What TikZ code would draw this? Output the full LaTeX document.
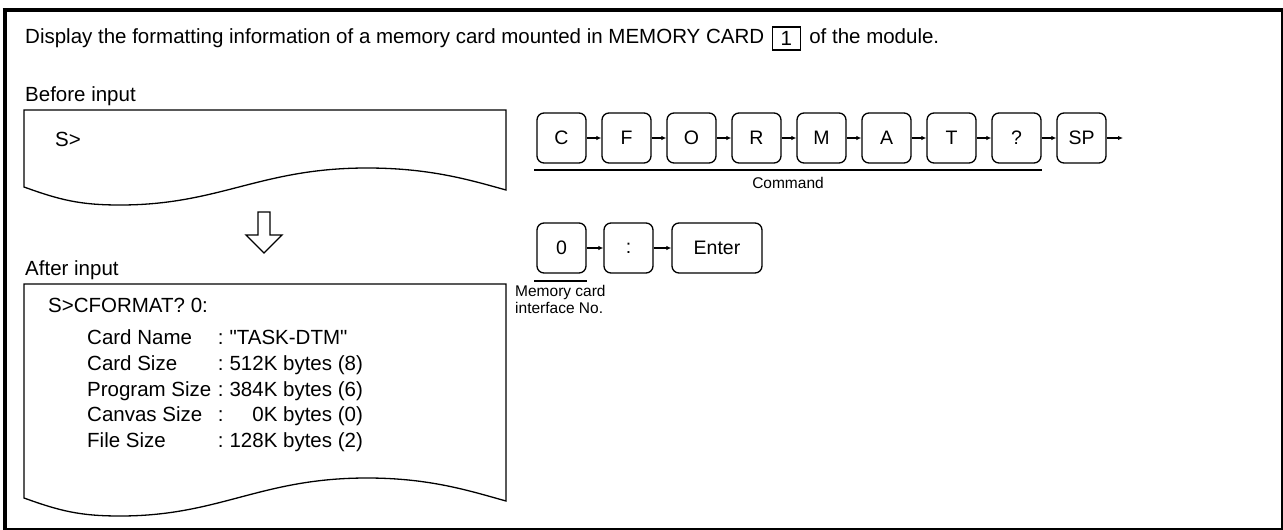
\documentclass[tikz,border=0pt]{standalone}
\usepackage{fontspec}
\setmainfont{Liberation Sans}[Ligatures=TeXOff]
\usetikzlibrary{arrows.meta,calc}
\begin{document}
\begin{tikzpicture}[x=1pt,y=-1pt,
  big/.style={font=\fontsize{20.5}{24}\selectfont, inner sep=0pt},
  keybox/.style={draw, line width=1.3pt, rounded corners=7pt, minimum width=49pt, minimum height=50pt, inner sep=0pt, font=\fontsize{19.5}{22}\selectfont},
  flow/.style={line width=1.2pt, -{Latex[length=5pt,width=4.5pt]}},
  paper/.style={draw, line width=1.3pt, fill=white},
  uline/.style={line width=1.8pt},
  small/.style={font=\fontsize{15.5}{17}\selectfont, inner sep=0pt}
]
\useasboundingbox (0,0) rectangle (1283,530);
% frame
\draw[line width=4pt] (4.7,8.5) -- (4.7,530);
\draw[line width=4pt] (2.7,10.3) -- (1283,10.3);
\draw[line width=2pt] (1281.7,10) -- (1281.7,528.7) -- (4.7,528.7);

% title line
\node[big, anchor=base west] (t1) at (25,43) {Display the formatting information of a memory card mounted in MEMORY CARD};
\path (t1.base east) ++(22,-4.5) node[draw, line width=1.3pt, minimum width=28pt, minimum height=23pt, big] (b1) {1};
\node[big, anchor=base west] (t2) at ([xshift=8pt]b1.east |- t1.base) {of the module.};

% before input
\node[big, anchor=base west] (bi) at (25,101) {Before input};
\draw[paper] (24,187) -- (24,110) -- (506,110) -- (506,190)
  .. controls (470,180) and (430,168) .. (367,168)
  .. controls (260,168) and (220,205) .. (120,205)
  .. controls (80,205) and (60,200) .. (24,187) -- cycle;
\node[big, anchor=base west] (s1) at (55,146) {S>};

% hollow arrow
\draw[line width=1.3pt, fill=white] (258,212) -- (270,212) -- (270,235) -- (282,235) -- (264,253) -- (246,235) -- (258,235) -- cycle;

% after input
\node[big, anchor=base west] (ai) at (25,275) {After input};
\draw[paper] (24,498) -- (24,284) -- (506,284) -- (506,501)
  .. controls (470,491) and (430,478) .. (367,478)
  .. controls (260,478) and (220,516) .. (120,516)
  .. controls (80,516) and (60,511) .. (24,498) -- cycle;
\node[big, anchor=base west] (s2) at (48,312) {S>CFORMAT? 0:};
\node[big, anchor=base west] (l1) at (87,344) {Card Name};
\node[big, anchor=base west] (l2) at (87,370) {Card Size};
\node[big, anchor=base west] (l3) at (87,396) {Program Size};
\node[big, anchor=base west] (l4) at (87,421) {Canvas Size};
\node[big, anchor=base west] (l5) at (87,447) {File Size};
\path (l3.base east) ++(6,0) coordinate (colx);
\node[big, anchor=base west] (c1) at (colx |- l1.base) {:};
\node[big, anchor=base west] (c2) at (colx |- l2.base) {:};
\node[big, anchor=base west] (c3) at (colx |- l3.base) {:};
\node[big, anchor=base west] (c4) at (colx |- l4.base) {:};
\node[big, anchor=base west] (c5) at (colx |- l5.base) {:};
\node[big, anchor=base west] (v1) at ([xshift=5.7pt]c1.base east) {"TASK-DTM"};
\node[big, anchor=base west] (v2) at ([xshift=5.7pt]c2.base east) {512K bytes (8)};
\node[big, anchor=base west] (v3) at ([xshift=5.7pt]c3.base east) {384K bytes (6)};
\node[big, anchor=base west] (v4) at ([xshift=5.7pt]c4.base east) {\phantom{00}0K bytes (0)};
\node[big, anchor=base west] (v5) at ([xshift=5.7pt]c5.base east) {128K bytes (2)};

% command keys
\node[keybox] (kC) at (561.5,138) {C};
\node[keybox] (kF) at (626.5,138) {F};
\node[keybox] (kO) at (691.5,138) {O};
\node[keybox] (kR) at (756.5,138) {R};
\node[keybox] (kM) at (821.5,138) {M};
\node[keybox] (kA) at (886.5,138) {A};
\node[keybox] (kT) at (951.5,138) {T};
\node[keybox] (kQ) at (1016.5,138) {?};
\node[keybox] (kS) at (1081.5,138) {SP};
\coordinate (kEnd) at (1123,138);
\draw[flow] (kC) -- (kF);
\draw[flow] (kF) -- (kO);
\draw[flow] (kO) -- (kR);
\draw[flow] (kR) -- (kM);
\draw[flow] (kM) -- (kA);
\draw[flow] (kA) -- (kT);
\draw[flow] (kT) -- (kQ);
\draw[flow] (kQ) -- (kS);
\draw[flow] (kS) -- (kEnd);
\draw[uline] ([xshift=-2pt,yshift=-6pt]kC.south west) coordinate (u1) -- ([yshift=-6pt]kQ.south east) coordinate (u2);
\node[small, anchor=north] (cmd) at ([yshift=-7pt]$(u1)!0.5!(u2)$) {Command};

% second row
\node[keybox] (k0) at (561.5,248) {0};
\node[keybox] (kCol) at (628.5,248) {:};
\node[keybox, minimum width=90pt] (kEnt) at (717,248) {Enter};
\draw[flow] (k0) -- (kCol);
\draw[flow] (kCol) -- (kEnt);
\draw[uline] ([xshift=-2pt,yshift=-7pt]k0.south west) coordinate (w1) -- ([yshift=-7pt]k0.south east) coordinate (w2);
\node[small, anchor=base west] (mc1) at (515,296) {Memory card};
\node[small, anchor=base west] (mc2) at (515,313) {interface No.};
\end{tikzpicture}
\end{document}
